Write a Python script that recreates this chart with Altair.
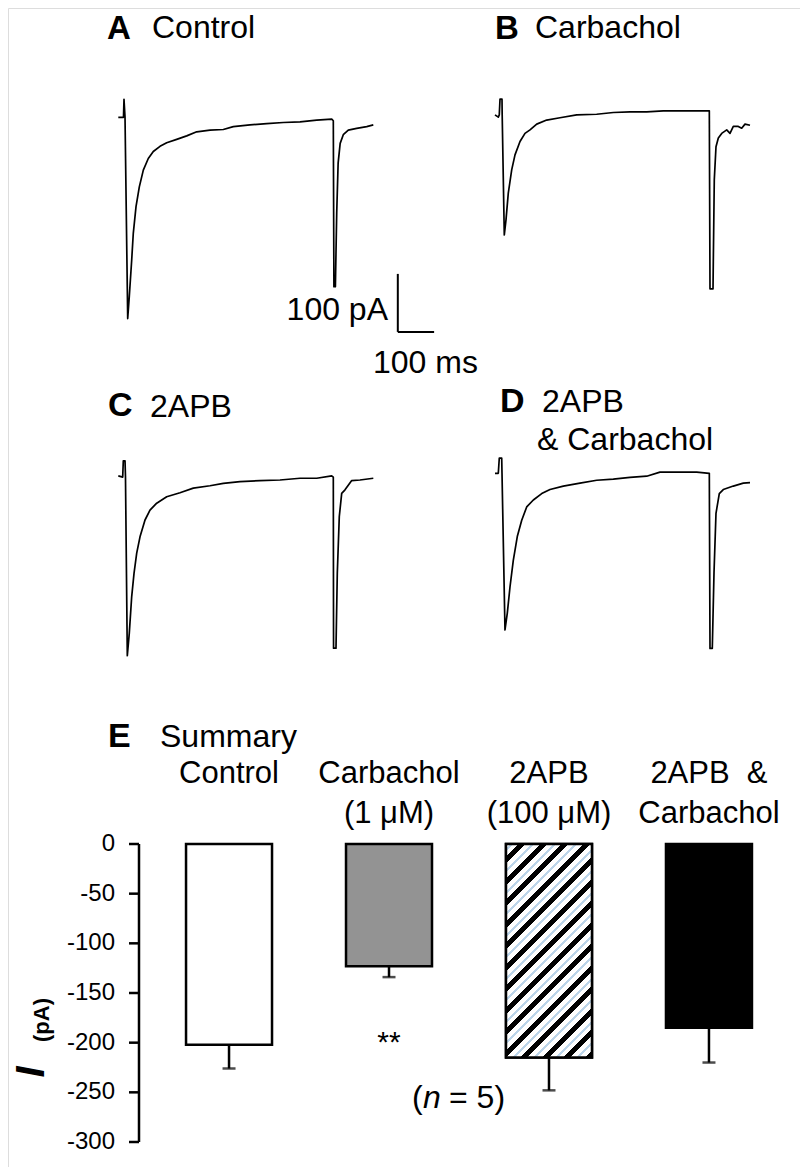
import altair as alt
import pandas as pd

FONT = "Liberation Sans"

# ---------------- traces (time in ms, current in pA relative to holding level) ----------------
A_t = [0, 12.1, 14.3, 15.7, 18.5, 25.9, 30.3, 36.9, 41.3, 48.8, 57.9, 68.9, 82.6, 96.4, 114.9, 133.3,
       160.9, 188.4, 216, 252.6, 289.3, 316.8, 362.8, 408.8, 454.5, 500.6, 546.6, 587.9, 592.3, 594.0,
       598.0, 601.7, 605.6, 611.2, 619.8, 633.6, 656.7, 684.3, 702.5]
A_i = [0, 0, 0, 31, 0, -347, -309, -246, -200, -154, -120, -91, -71, -59, -50, -44,
       -38, -32, -25, -22, -21, -16, -13, -11, -9, -8, -5, -3, -6, -292,
       -292, -165, -79, -45, -30, -22, -19, -16, -13]

B_t = [0, 9.1, 11.8, 13.8, 19.3, 19.8, 25.6, 30.3, 36.6, 46, 55.1, 68.9, 82.6, 96.4, 114.9, 142.4,
       179, 225, 280, 326, 372, 418, 463.6, 509.6, 555.6, 590.4, 592.3, 600.6, 601.4, 604.1, 608.8,
       615.2, 624.5, 638.3, 647.4, 656.5, 670.2, 679.6, 688.7, 702.5]
B_i = [2, -2, 2, 29, 29, 2, -205, -179, -133, -93, -67, -44, -30, -24, -14, -7,
       -3, 2, 3, 6, 7, 7, 9, 9, 9, 9, -298, -298, -251, -110, -53,
       -38, -30, -24, -30, -18, -18, -21, -14, -16]

C_t = [0, 12.1, 13.8, 18.5, 19.8, 24.8, 30.3, 36.9, 43.3, 50.7, 59.8, 73.6, 87.3, 105.8, 133.3, 170,
       206.6, 252.6, 289.3, 335.3, 390.4, 445.5, 500.6, 546.6, 587.9, 592.3, 593, 599.7, 603.3, 608.8,
       615.4, 624.5, 643, 665.8, 702.5]
C_i = [1, -1, 27, 27, -1, -309, -270, -207, -167, -132, -104, -75, -58, -46, -35, -28,
       -20, -16, -12, -9, -7, -6, -3, -3, 1, -1, -296, -296, -167, -69,
       -29, -23, -7, -6, -3]

D_t = [0, 9.1, 11.8, 18.5, 19.3, 27.5, 33.9, 41.3, 50.4, 61.4, 73.6, 87.3, 105.6, 128.7, 151.5, 188.2,
       234.2, 280.2, 325.9, 371.9, 417.9, 454.5, 509.6, 555.6, 590.4, 592.3, 598.6, 603.3, 608.8, 617.9,
       628.9, 656.5, 684.0, 702.5]
D_i = [0, 0, 26, 26, 0, -270, -241, -196, -150, -109, -81, -58, -46, -35, -28, -22,
       -17, -12, -10, -7, -5, 2, 2, 2, 0, -302, -302, -172, -69, -35,
       -28, -22, -17, -16]

# scale bar (100 ms, 100 pA) drawn in panel A units
SB_T = [770, 870]
SB_I = [-370, -270]

# ---------------- summary ----------------
cats = ["Control", "Carbachol", "2APB", "2APB & Carbachol"]
cat_labels = ["Control", "Carbachol\n(1 \u03bcM)", "2APB\n(100 \u03bcM)", "2APB\u00a0\u00a0&\nCarbachol"]
means = [-202, -123, -215, -185]
lows = [-226, -134, -248, -220]
yticks = [0, -50, -100, -150, -200, -250, -300]
sig_cat = ["Carbachol"]
sig_txt = ["**"]

titles = {"A": "Control", "B": "Carbachol", "C": "2APB", "D": "2APB", "E": "Summary"}
d_second = "& Carbachol"
sb_texts = ["100 pA", "100 ms"]
n_texts = ["(", "n", "= 5)"]
ylab = ["I", "(pA)"]

# ---------------- geometry ----------------
PX_MS = 0.363
PX_PA = 0.58
W, H = 792, 1159


def xs(x0):
    return alt.Scale(domain=[0, 1000], range=[x0, x0 + 1000 * PX_MS], nice=False, zero=False)


def ys(y0):
    return alt.Scale(domain=[-400, 100], range=[y0 + 400 * PX_PA, y0 - 100 * PX_PA], nice=False, zero=False)


def trace(t, i, x0, y0):
    df = pd.DataFrame({"t": t, "i": i})
    df["o"] = range(len(df))
    return alt.Chart(df).mark_line(color="black", strokeWidth=1.7, strokeJoin="round").encode(
        x=alt.X("t:Q", scale=xs(x0), axis=None),
        y=alt.Y("i:Q", scale=ys(y0), axis=None),
        order="o:Q",
    )


def label(text, x, y, size=32, weight="normal", style="normal", align="left", angle=0, baseline="alphabetic"):
    return alt.Chart(pd.DataFrame({"s": [text]})).mark_text(
        align=align, baseline=baseline, fontSize=size, fontWeight=weight, fontStyle=style,
        angle=angle, color="black", font=FONT,
    ).encode(x=alt.value(x), y=alt.value(y), text="s:N")


# panel A with scale bar
sb_df = pd.DataFrame({"t": [SB_T[0], SB_T[0]], "t2": [SB_T[0], SB_T[1]],
                      "i": [SB_I[0], SB_I[0]], "i2": [SB_I[1], SB_I[0]]})
A0 = (110.3, 109.3)
scalebar = alt.Chart(sb_df).mark_rule(color="black", strokeWidth=2).encode(
    x=alt.X("t:Q", scale=xs(A0[0]), axis=None), x2="t2:Q",
    y=alt.Y("i:Q", scale=ys(A0[1]), axis=None), y2="i2:Q",
)
panelA = alt.layer(trace(A_t, A_i, *A0), scalebar)
panelB = trace(B_t, B_i, 487, 108)
panelC = trace(C_t, C_i, 110.3, 468.5)
panelD = trace(D_t, D_i, 487, 465.3)

# ---------------- bar chart ----------------
bars_df = pd.DataFrame({"cat": cats, "mean": means, "low": lows, "label": cat_labels})
AXIS_X = 131
xb = alt.Scale(domain=cats, range=[AXIS_X, AXIS_X + 660], paddingInner=0.4625, paddingOuter=0.294)
yb = alt.Scale(domain=[-300, 0], range=[1134, 836], nice=False, zero=False)
X = alt.X("cat:N", scale=xb, axis=None)

# diagonal stripes for the 2APB bar
bw = 86.0
bh = abs(means[2]) * 298 / 300
D = (bw + bh) / 2 ** 0.5
c = (bw + bh) / (bw ** 2 + bh ** 2)
P, BLK, BLU = 15.2, 5.0, 2.0
segs = []
p = -P * 0.4
while p < D:
    wgap = (P - BLK - BLU) / 2
    segs += [(p, p + BLK, "black"), (p + BLK, p + BLK + wgap, "white"),
             (p + BLK + wgap, p + BLK + wgap + BLU, "#bcd5ea"), (p + BLK + wgap + BLU, p + P, "white")]
    p += P
stops = []
for s, e, col in segs:
    s2, e2 = max(s, 0), min(e, D)
    if e2 <= s2:
        continue
    stops.append(alt.GradientStop(offset=round(s2 / D, 5), color=col))
    stops.append(alt.GradientStop(offset=round(e2 / D, 5), color=col))
stripes = alt.LinearGradient(gradient="linear", stops=stops, x1=0, y1=0, x2=c * bw, y2=c * bh)

base = alt.Chart(bars_df)
Y = alt.Y("mean:Q", scale=yb, axis=None)
bars = base.mark_bar(stroke="black", strokeWidth=2.5).encode(
    x=X, y=Y, y2=alt.datum(0),
    fill=alt.Fill("cat:N", scale=alt.Scale(domain=cats, range=["white", "#939393", "white", "black"]), legend=None),
)
hatch = base.transform_filter(alt.datum.cat == "2APB").mark_bar(
    fill=stripes, stroke="black", strokeWidth=2.5).encode(x=X, y=Y, y2=alt.datum(0))
err = base.mark_rule(color="black", strokeWidth=2.5).encode(x=X, y=Y, y2="low:Q")
cap = base.mark_tick(color="black", size=13, thickness=2.5).encode(
    x=X, y=alt.Y("low:Q", scale=yb, axis=None))
catlab = base.mark_text(fontSize=31, font=FONT, lineBreak="\n", lineHeight=40, baseline="alphabetic",
                        color="black").encode(x=X, y=alt.value(775), text="label:N")
star = alt.Chart(pd.DataFrame({"cat": sig_cat, "s": sig_txt})).mark_text(
    fontSize=30, font=FONT, baseline="alphabetic", color="black").encode(
    x=X, y=alt.value(1044), text="s:N")

# y axis (line, ticks, labels) drawn through the bar chart's y scale
tick_df = pd.DataFrame({"v": yticks})
YT = alt.Y("v:Q", scale=yb, axis=None)
axis_line = alt.Chart(pd.DataFrame({"v": [max(yticks)], "v2": [min(yticks)]})).mark_rule(
    color="black", strokeWidth=2.5).encode(x=alt.value(AXIS_X), y=YT, y2="v2:Q")
axis_ticks = alt.Chart(tick_df).mark_rule(color="black", strokeWidth=2.5).encode(
    x=alt.value(AXIS_X - 10), x2=alt.value(AXIS_X), y=YT)
axis_labels = alt.Chart(tick_df).transform_calculate(lab="'' + datum.v").mark_text(
    align="right", baseline="middle", fontSize=24, font=FONT, color="black").encode(
    x=alt.value(AXIS_X - 24), y=YT, text="lab:N")

panelE = alt.layer(bars, hatch, err, cap, star, catlab, axis_line, axis_ticks, axis_labels)

labels = [
    label("A", 99, 31, size=33, weight="bold"), label(titles["A"], 144, 30),
    label("B", 487, 31, size=33, weight="bold"), label(titles["B"], 527, 30),
    label("C", 100, 408, size=34, weight="bold"), label(titles["C"], 142, 409),
    label("D", 492, 404, size=34, weight="bold"), label(titles["D"], 534, 404),
    label(d_second, 529, 442),
    label("E", 100, 739, size=34, weight="bold"), label(titles["E"], 152, 739),
    label(sb_texts[0], 380, 312, align="right"), label(sb_texts[1], 365, 365),
    label(n_texts[0], 404, 1100), label(n_texts[1], 415, 1100, style="italic"), label(n_texts[2], 441, 1100),
    label(ylab[0], 36, 1064, size=40, weight="bold", style="italic", angle=270, align="center"),
    label(ylab[1], 41, 1012, size=22, weight="bold", angle=270, align="center"),
]

chart = alt.layer(panelA, panelB, panelC, panelD, panelE, *labels).resolve_scale(
    x="independent", y="independent"
).properties(
    width=W, height=H, padding=0, autosize=alt.AutoSizeParams(type="none")
).configure_view(stroke=None).configure(font=FONT)

chart.save("out.html", embed_options={"renderer": "svg", "actions": False})
